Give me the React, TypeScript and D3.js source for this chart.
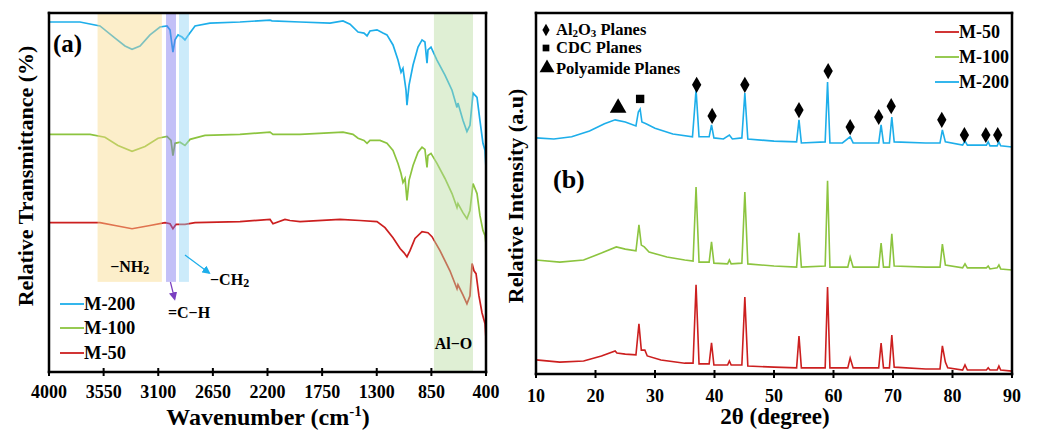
import React from "react";
import * as d3 from "d3";

// ---------- (a) FTIR ----------
const ftirTicks = [4000, 3550, 3100, 2650, 2200, 1750, 1300, 850, 400];

const ftirM200: [number, number][] = [
  [4000, 97.5], [3745, 97.5], [3580, 96.4], [3456, 93.0], [3374, 90.8], [3316, 89.9], [3250, 90.8],
  [3168, 93.9], [3086, 96.1], [3028, 96.4], [3003, 95.3], [2987, 91.1], [2979, 89.1], [2962, 92.5],
  [2937, 93.9], [2904, 93.3], [2880, 92.5], [2847, 94.1], [2797, 96.4], [2674, 97.2], [2427, 97.5],
  [2179, 98.0], [2163, 97.8], [1932, 97.5], [1685, 97.2], [1578, 97.8], [1520, 96.9], [1454, 94.7],
  [1405, 94.4], [1380, 93.6], [1356, 95.0], [1298, 95.3], [1249, 94.4], [1216, 93.9], [1166, 91.1],
  [1125, 86.9], [1100, 83.5], [1084, 84.6], [1059, 78.5], [1051, 74.3], [1034, 79.9], [1001, 85.5],
  [960, 90.5], [927, 92.5], [903, 91.9], [886, 86.0], [878, 89.7], [853, 90.5], [804, 86.9],
  [738, 82.7], [680, 78.5], [639, 73.7], [631, 74.9], [590, 70.1], [557, 67.0], [532, 68.7],
  [507, 77.7], [491, 77.1], [474, 76.5], [450, 70.1], [425, 63.7], [408, 61.7], [400, 56.7],
];

const ftirM100: [number, number][] = [
  [4000, 66.2], [3662, 66.2], [3539, 65.4], [3432, 63.1], [3316, 61.5], [3209, 62.8], [3102, 65.1],
  [3028, 65.6], [2995, 64.5], [2979, 60.3], [2962, 63.7], [2921, 64.0], [2880, 63.1], [2838, 64.8],
  [2715, 65.9], [2427, 66.2], [2179, 66.8], [2155, 66.2], [1932, 66.2], [1578, 66.8], [1496, 66.2],
  [1454, 65.1], [1405, 64.5], [1380, 63.7], [1356, 64.5], [1273, 64.5], [1216, 63.7], [1166, 61.7],
  [1125, 58.1], [1100, 55.3], [1084, 52.8], [1067, 53.9], [1051, 47.8], [1034, 53.4], [1001, 57.5],
  [960, 61.2], [927, 62.6], [903, 62.0], [886, 57.0], [878, 60.3], [853, 60.9], [804, 58.1],
  [738, 53.9], [680, 49.7], [639, 45.8], [631, 46.9], [590, 44.4], [557, 42.7], [532, 45.0],
  [507, 52.5], [474, 49.7], [450, 43.6], [425, 39.4], [408, 38.0], [402, 36.0], [400, 24.6],
];

const ftirM50: [number, number][] = [
  [4000, 41.6], [3580, 41.6], [3456, 40.8], [3316, 39.9], [3168, 40.8], [3044, 41.6], [3003, 41.3],
  [2979, 39.9], [2954, 41.1], [2880, 41.1], [2797, 41.6], [2427, 41.9], [2179, 42.5], [2155, 41.3],
  [2056, 42.5], [2015, 42.2], [1932, 41.9], [1603, 42.5], [1438, 42.2], [1298, 41.9], [1232, 40.2],
  [1166, 37.4], [1108, 34.4], [1075, 33.2], [1051, 32.1], [1026, 33.8], [985, 37.2], [927, 39.1],
  [878, 38.8], [845, 37.7], [779, 33.8], [697, 28.2], [639, 23.2], [631, 24.3], [590, 21.5],
  [557, 19.0], [532, 21.2], [515, 30.2], [499, 28.2], [482, 27.4], [458, 21.2], [433, 16.5],
  [408, 13.4], [402, 10.0], [400, 0.8],
];

const ftirBands = [
  { from: 3600, to: 3070, bottom: 25.1, color: "#f9d98a" },
  { from: 3036, to: 2954, bottom: 25.1, color: "#7b73ee" },
  { from: 2929, to: 2847, bottom: 25.1, color: "#8fd3f3" },
  { from: 829, to: 507, bottom: 0, color: "#b9dc9f" },
];

// ---------- (b) XRD ----------
const xrdTicks = [10, 20, 30, 40, 50, 60, 70, 80, 90];

const xrdM200: [number, number][] = [
  [10, 65.4], [13, 65.1], [16, 65.7], [19, 67.3], [21.5, 69.3], [23.3, 70.4], [25, 69.8], [26.8, 68.7],
  [27.2, 72.6], [27.5, 73.4], [27.8, 69.8], [28.5, 69.3], [30, 68.1], [33, 66.5], [36.3, 65.7],
  [36.9, 78.7], [37.4, 65.7], [39.1, 65.7], [39.5, 69.0], [39.9, 65.4], [41.5, 65.1], [42.5, 66.2],
  [43, 65.1], [44.6, 65.4], [45.1, 77.8], [45.6, 65.1], [50, 64.5], [53.8, 64.3], [54.2, 70.4],
  [54.6, 64.0], [58.6, 64.3], [59.0, 80.9], [59.4, 64.0], [61.5, 64.0], [62.8, 65.7], [63.3, 64.0],
  [67.6, 64.0], [68, 69.0], [68.4, 64.0], [69.4, 64.0], [69.8, 71.2], [70.2, 64.3], [75.5, 64.0],
  [77.9, 64.0], [78.3, 67.6], [78.8, 64.3], [81.7, 63.4], [82.1, 64.5], [82.5, 63.4], [85.7, 63.4],
  [86, 64.3], [86.3, 63.2], [87.5, 63.2], [87.8, 64.3], [88.1, 63.2], [90, 62.9],
];

const xrdM100: [number, number][] = [
  [10, 31.6], [14, 31.0], [18, 31.6], [21, 33.5], [23.5, 35.2], [25, 34.6], [26.8, 34.1], [27.3, 41.3],
  [27.7, 35.7], [28.2, 35.2], [29, 33.8], [32, 32.4], [35, 31.6], [36.4, 31.3], [36.9, 51.8],
  [37.4, 31.0], [39.1, 31.0], [39.5, 36.6], [39.9, 30.7], [42.2, 30.5], [42.5, 31.6], [42.8, 30.5],
  [44.6, 30.7], [45.1, 50.4], [45.6, 30.5], [50, 29.9], [53.8, 29.6], [54.2, 39.1], [54.6, 29.6],
  [58.6, 29.9], [59.0, 53.5], [59.4, 29.6], [62.4, 29.6], [62.8, 32.4], [63.3, 29.6], [67.6, 29.6],
  [68, 36.3], [68.4, 29.6], [69.4, 29.6], [69.8, 38.8], [70.2, 29.9], [75.5, 29.6], [77.9, 29.6],
  [78.3, 36.0], [78.8, 30.2], [81.7, 29.4], [82.1, 30.5], [82.5, 29.4], [85.7, 29.4], [86, 29.9],
  [86.3, 29.1], [87.5, 29.4], [87.8, 30.2], [88.1, 29.1], [90, 28.8],
];

const xrdM50: [number, number][] = [
  [10, 3.9], [14, 3.3], [18, 3.6], [21, 5.0], [23.3, 6.4], [23.6, 5.8], [25, 5.5], [26.8, 5.3],
  [27.3, 13.9], [27.7, 6.6], [28.3, 6.6], [28.7, 5.0], [31, 3.9], [35, 3.0], [36.4, 3.0], [36.9, 24.7],
  [37.4, 2.8], [39.1, 2.8], [39.5, 8.6], [39.9, 2.5], [42.2, 2.5], [42.5, 3.6], [42.8, 2.5], [44.6, 2.5],
  [45.1, 21.3], [45.6, 2.2], [50, 1.9], [53.8, 1.7], [54.2, 10.5], [54.6, 1.7], [58.6, 1.7], [59.0, 24.1],
  [59.4, 1.7], [62.4, 1.7], [62.8, 4.4], [63.3, 1.7], [67.6, 1.7], [68, 8.6], [68.4, 1.7], [69.4, 1.7],
  [69.8, 10.8], [70.2, 1.9], [75.5, 1.4], [77.9, 1.4], [78.3, 7.8], [78.8, 3.3], [79.2, 1.7], [81.7, 1.1],
  [82.1, 2.5], [82.5, 1.1], [85.7, 1.1], [86, 1.7], [86.3, 1.1], [87.5, 1.1], [87.8, 2.2], [88.1, 1.1],
  [90, 0.8],
];

const al2o3Marks: [number, number][] = [
  [37, 80.1], [39.6, 71.5], [45.1, 80.1], [54.2, 73.1], [59.1, 83.9], [62.8, 68.4], [67.6, 71.2],
  [69.7, 74.2], [78.2, 70.4], [82, 66.2], [85.6, 66.2], [87.6, 66.2],
];
const cdcMarks: [number, number][] = [[27.5, 76.2]];
const polyMarks: [number, number][] = [[23.8, 73.7]];

const RED = "#cc1f1f";
const GREEN = "#8cc43f";
const BLUE = "#1daeea";
const FONT = "'Liberation Serif', 'Times New Roman', serif";

const fx = d3.scaleLinear().domain([4000, 400]).range([49, 486]);
const fy = d3.scaleLinear().domain([0, 100]).range([372, 13]);
const xx = d3.scaleLinear().domain([10, 90]).range([536, 1012]);
const xy = d3.scaleLinear().domain([0, 100]).range([374, 13]);

const fLine = d3.line<[number, number]>().x((d) => fx(d[0])).y((d) => fy(d[1]));
const xLine = d3.line<[number, number]>().x((d) => xx(d[0])).y((d) => xy(d[1]));

const diamond = d3.symbol().type(d3.symbolDiamond).size(75)() as string;
const square = d3.symbol().type(d3.symbolSquare).size(70)() as string;
const triangle = d3.symbol().type(d3.symbolTriangle).size(120)() as string;

// box drawn as four filled bars, 2.5px thick
const Frame = ({ x0, y0, x1, y1 }: { x0: number; y0: number; x1: number; y1: number }) => {
  const t = 2.5;
  return (
    <g fill="#000000">
      <rect x={x0 - t / 2} y={y0 - t / 2} width={x1 - x0 + t} height={t} />
      <rect x={x0 - t / 2} y={y1 - t / 2} width={x1 - x0 + t} height={t} />
      <rect x={x0 - t / 2} y={y0 - t / 2} width={t} height={y1 - y0 + t} />
      <rect x={x1 - t / 2} y={y0 - t / 2} width={t} height={y1 - y0 + t} />
    </g>
  );
};

export default function App() {
  return (
    <svg
      width={1042}
      height={430}
      style={{ position: "absolute", left: 0, top: 0, background: "#fff" }}
      fontFamily={FONT}
      fontWeight="bold"
    >
      <defs>
        <marker id="arB" viewBox="0 0 10 10" refX="8" refY="5" markerWidth="7" markerHeight="7" orient="auto">
          <path d="M0,0 L10,5 L0,10 z" fill={BLUE} />
        </marker>
        <marker id="arP" viewBox="0 0 10 10" refX="8" refY="5" markerWidth="7" markerHeight="7" orient="auto">
          <path d="M0,0 L10,5 L0,10 z" fill="#7a3fc0" />
        </marker>
      </defs>

      {/* ----- panel (a) ----- */}
      <path d={fLine(ftirM200)!} fill="none" stroke={BLUE} strokeWidth={1.7} />
      <path d={fLine(ftirM100)!} fill="none" stroke={GREEN} strokeWidth={1.7} />
      <path d={fLine(ftirM50)!} fill="none" stroke={RED} strokeWidth={1.7} />
      {ftirBands.map((b, i) => (
        <rect
          key={i}
          x={fx(b.from)}
          y={fy(100)}
          width={fx(b.to) - fx(b.from)}
          height={fy(b.bottom) - fy(100)}
          fill={b.color}
          opacity={0.45}
        />
      ))}
      <Frame x0={fx(4000)} y0={fy(100)} x1={fx(400)} y1={fy(0)} />
      {ftirTicks.map((t) => (
        <g key={t}>
          <line x1={fx(t)} x2={fx(t)} y1={fy(0) - 4} y2={fy(0) + 4} stroke="#000" strokeWidth={2} />
          <text x={fx(t)} y={398} textAnchor="middle" fontSize={18}>
            {t}
          </text>
        </g>
      ))}
      <text x={268} y={425} textAnchor="middle" fontSize={24}>
        Wavenumber (cm
        <tspan fontSize={15} dy={-9}>-1</tspan>
        <tspan dy={9}>)</tspan>
      </text>
      <text transform="translate(33,176) rotate(-90)" textAnchor="middle" fontSize={22}>
        Relative Transmittance (%)
      </text>
      <text x={53} y={52} fontSize={25}>(a)</text>

      <text x={fx(3335)} y={272} textAnchor="middle" fontSize={16}>
        −NH<tspan fontSize={12} dy={2}>2</tspan>
      </text>
      <line x1={fx(2880)} y1={255} x2={fx(2680)} y2={273} stroke={BLUE} strokeWidth={1.2} markerEnd="url(#arB)" />
      <text x={210} y={285} fontSize={16}>
        −CH<tspan fontSize={12} dy={2}>2</tspan>
      </text>
      <line x1={fx(3000)} y1={282} x2={fx(2965)} y2={299} stroke="#7a3fc0" strokeWidth={1.2} markerEnd="url(#arP)" />
      <text x={189} y={318} textAnchor="middle" fontSize={16}>=C−H</text>
      <text x={fx(668)} y={349} textAnchor="middle" fontSize={16}>Al−O</text>

      {[
        { name: "M-200", color: BLUE, y: 304 },
        { name: "M-100", color: GREEN, y: 328 },
        { name: "M-50", color: RED, y: 353 },
      ].map((l) => (
        <g key={l.name}>
          <line x1={60} x2={84} y1={l.y} y2={l.y} stroke={l.color} strokeWidth={1.8} />
          <text x={84} y={l.y + 6} fontSize={18.5}>{l.name}</text>
        </g>
      ))}

      {/* ----- panel (b) ----- */}
      <path d={xLine(xrdM50)!} fill="none" stroke={RED} strokeWidth={1.6} />
      <path d={xLine(xrdM100)!} fill="none" stroke={GREEN} strokeWidth={1.6} />
      <path d={xLine(xrdM200)!} fill="none" stroke={BLUE} strokeWidth={1.6} />
      <Frame x0={xx(10)} y0={xy(100)} x1={xx(90)} y1={xy(0)} />
      {xrdTicks.map((t) => (
        <g key={t}>
          <line x1={xx(t)} x2={xx(t)} y1={xy(0) - 4} y2={xy(0) + 4} stroke="#000" strokeWidth={2} />
          <text x={xx(t)} y={402} textAnchor="middle" fontSize={18}>
            {t}
          </text>
        </g>
      ))}
      <text x={775} y={424} textAnchor="middle" fontSize={23}>2θ (degree)</text>
      <text transform="translate(523,196) rotate(-90)" textAnchor="middle" fontSize={22}>
        Relative Intensity (a.u)
      </text>
      <text x={553} y={188} fontSize={26}>(b)</text>

      {al2o3Marks.map((m, i) => (
        <path key={i} d={diamond} transform={`translate(${xx(m[0])},${xy(m[1])})`} fill="#000" />
      ))}
      {cdcMarks.map((m, i) => (
        <path key={i} d={square} transform={`translate(${xx(m[0])},${xy(m[1])})`} fill="#000" />
      ))}
      {polyMarks.map((m, i) => (
        <path key={i} d={triangle} transform={`translate(${xx(m[0])},${xy(m[1])})`} fill="#000" />
      ))}

      <path d={d3.symbol().type(d3.symbolDiamond).size(45)() as string} transform="translate(546,30)" fill="#000" />
      <text x={556} y={35} fontSize={16.5}>
        Al<tspan fontSize={11} dy={2}>2</tspan>
        <tspan dy={-2}>O</tspan>
        <tspan fontSize={11} dy={2}>3</tspan>
        <tspan dy={-2}> Planes</tspan>
      </text>
      <path d={d3.symbol().type(d3.symbolSquare).size(45)() as string} transform="translate(546,48)" fill="#000" />
      <text x={556} y={53} fontSize={16.5}>CDC Planes</text>
      <path d={d3.symbol().type(d3.symbolTriangle).size(95)() as string} transform="translate(547,68)" fill="#000" />
      <text x={556} y={74} fontSize={16.5}>Polyamide Planes</text>

      {[
        { name: "M-50", color: RED, y: 32 },
        { name: "M-100", color: GREEN, y: 57 },
        { name: "M-200", color: BLUE, y: 82 },
      ].map((l) => (
        <g key={l.name}>
          <line x1={935} x2={959} y1={l.y} y2={l.y} stroke={l.color} strokeWidth={1.8} />
          <text x={959} y={l.y + 6} fontSize={18}>{l.name}</text>
        </g>
      ))}
    </svg>
  );
}
